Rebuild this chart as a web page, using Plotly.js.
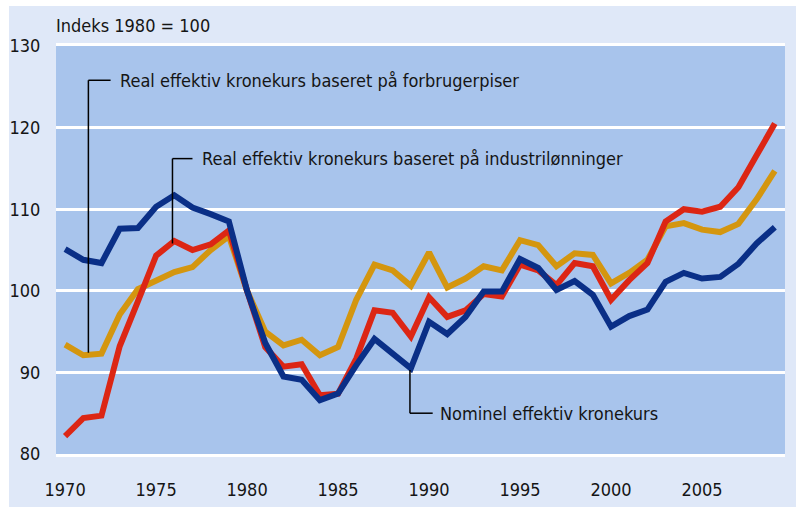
<!DOCTYPE html>
<html>
<head>
<meta charset="utf-8">
<script src="https://cdn.plot.ly/plotly-3.0.1.min.js"></script>
<style>
html,body{margin:0;padding:0;background:#ffffff;width:800px;height:507px;overflow:hidden;}
#chart{position:absolute;left:9px;top:6px;width:787px;height:501px;}
</style>
</head>
<body>
<div id="chart"></div>
<script>
const years = [1970,1971,1972,1973,1974,1975,1976,1977,1978,1979,
               1980,1981,1982,1983,1984,1985,1986,1987,1988,1989,
               1990,1991,1992,1993,1994,1995,1996,1997,1998,1999,
               2000,2001,2002,2003,2004,2005,2006,2007,2008,2009];

const forbrugerpriser = [93.4,92.1,92.3,97.1,100.2,101.2,102.3,102.9,105.0,106.7,
                         100.0,95.0,93.3,94.0,92.1,93.1,98.9,103.2,102.5,100.6,
                         104.7,100.4,101.5,103.0,102.5,106.2,105.6,103.0,104.6,104.4,
                         100.9,102.2,103.8,107.9,108.3,107.5,107.2,108.2,111.2,114.7];

const industriloenninger = [82.2,84.4,84.7,93.2,98.7,104.3,106.1,105.0,105.7,107.4,
                            100.0,93.1,90.7,91.0,87.2,87.4,91.7,97.6,97.3,94.4,
                            99.2,96.8,97.6,99.6,99.3,103.2,102.5,100.7,103.4,103.0,
                            98.9,101.3,103.4,108.5,110.0,109.7,110.3,112.7,116.6,120.5];

const nominel = [105.1,103.8,103.4,107.6,107.7,110.3,111.7,110.2,109.4,108.5,
                 100.0,93.6,89.5,89.1,86.6,87.4,90.9,94.1,92.3,90.5,
                 96.2,94.7,96.8,99.9,99.9,103.9,102.8,100.1,101.2,99.5,
                 95.6,96.9,97.7,101.1,102.2,101.5,101.7,103.3,105.8,107.8];

const yTicks = [80,90,100,110,120,130];
const xTicks = [1970,1975,1980,1985,1990,1995,2000,2005];

const labelForbruger = "Real effektiv kronekurs baseret på forbrugerpiser";
const labelIndustri = "Real effektiv kronekurs baseret på industrilønninger";
const labelNominel = "Nominel effektiv kronekurs";
const unitLabel = "Indeks 1980 = 100";

const FONT = '"DejaVu Sans Condensed", "Liberation Sans Narrow", "Arial Narrow", sans-serif';
const TXT = '#151515';
const FS = 18;

const traces = [
  {x: years, y: forbrugerpriser, type:'scatter', mode:'lines', name: labelForbruger,
   line:{color:'#d4960f', width:6}},
  {x: years, y: industriloenninger, type:'scatter', mode:'lines', name: labelIndustri,
   line:{color:'#dc2614', width:6}},
  {x: years, y: nominel, type:'scatter', mode:'lines', name: labelNominel,
   line:{color:'#0a2f87', width:6}}
];

const lineStyle = {color:'#000000', width:1.5};
const shapes = [
  {type:'line', xref:'x', yref:'y', x0:1971.28, x1:1971.28, y0:92.4, y1:125.8, line:lineStyle, layer:'above'},
  {type:'line', xref:'x', yref:'y', x0:1971.28, x1:1972.5, y0:125.8, y1:125.8, line:lineStyle, layer:'above'},
  {type:'line', xref:'x', yref:'y', x0:1975.9, x1:1975.9, y0:105.8, y1:116.2, line:lineStyle, layer:'above'},
  {type:'line', xref:'x', yref:'y', x0:1975.9, x1:1977.0, y0:116.2, y1:116.2, line:lineStyle, layer:'above'},
  {type:'line', xref:'x', yref:'y', x0:1988.95, x1:1988.95, y0:90.3, y1:85.0, line:lineStyle, layer:'above'},
  {type:'line', xref:'x', yref:'y', x0:1988.95, x1:1990.2, y0:85.0, y1:85.0, line:lineStyle, layer:'above'}
];

const annotations = [
  {text: labelForbruger, xref:'x', yref:'y', x:1972.9, y:125.8, xanchor:'left', yanchor:'middle',
   showarrow:false, font:{family:FONT, size:FS, color:TXT}},
  {text: labelIndustri, xref:'x', yref:'y', x:1977.4, y:116.2, xanchor:'left', yanchor:'middle',
   showarrow:false, font:{family:FONT, size:FS, color:TXT}},
  {text: labelNominel, xref:'x', yref:'y', x:1990.5, y:85.0, xanchor:'left', yanchor:'middle',
   showarrow:false, font:{family:FONT, size:FS, color:TXT}},
  {text: unitLabel, xref:'paper', yref:'paper', x:0.0, y:1.0, xanchor:'left', yanchor:'middle',
   yshift:21, xshift:-2, showarrow:false, font:{family:FONT, size:FS, color:TXT}}
];

const layout = {
  width:787, height:501,
  margin:{l:47, r:11, t:40, b:53, pad:0},
  paper_bgcolor:'#dfe8f8',
  plot_bgcolor:'#a8c4ec',
  showlegend:false,
  font:{family:FONT, size:FS, color:TXT},
  xaxis:{
    range:[1969.5, 2009.56], tickvals:xTicks, ticktext:xTicks.map(String),
    showgrid:false, zeroline:false,
    showline:true, linecolor:'#ffffff', linewidth:3, mirror:true,
    ticks:'outside', ticklen:17, tickcolor:'rgba(0,0,0,0)',
    tickfont:{family:FONT, size:FS, color:TXT}, fixedrange:true
  },
  yaxis:{
    range:[80,130], tickvals:yTicks, ticktext:yTicks.map(String),
    showgrid:true, gridcolor:'#ffffff', gridwidth:3, zeroline:false,
    showline:false,
    ticks:'outside', ticklen:11, tickcolor:'rgba(0,0,0,0)',
    tickfont:{family:FONT, size:FS, color:TXT}, fixedrange:true
  },
  shapes:shapes,
  annotations:annotations
};

Plotly.newPlot('chart', traces, layout, {displayModeBar:false, staticPlot:true});
</script>
</body>
</html>
